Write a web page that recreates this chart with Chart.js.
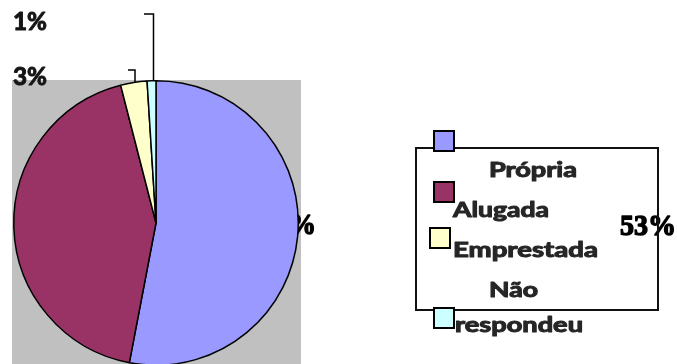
<!DOCTYPE html>
<html><head><meta charset="utf-8">
<script src="https://cdn.jsdelivr.net/npm/chart.js@4.4.1/dist/chart.umd.min.js"></script>
<style>
html,body{margin:0;padding:0;overflow:hidden;background:#fff}
#wrap{width:677px;height:364px;overflow:hidden;position:relative}
canvas{display:block}
</style>
</head><body>
<div id="wrap"><canvas id="c" width="677" height="380"></canvas></div>
<script>
// ---- data ----
const categories = ["Própria", "Alugada", "Emprestada", "Não respondeu"];
const values = [53, 43, 3, 1];
const sliceColors = ["#9999FF", "#993366", "#FFFFCC", "#CCFFFF"];

function pct(i){ return values[i] + "%"; }

const SANS = "700 20px Lato, 'Open Sans', 'DejaVu Sans', sans-serif";
const SANS_BIG = "700 24px Lato, 'Open Sans', 'DejaVu Sans', sans-serif";
const SERIF = "700 29px 'Liberation Serif', 'DejaVu Serif', serif";

function drawFit(ctx, text, x, baseline, targetW, font, color, emb){
  ctx.save();
  ctx.font = font;
  ctx.fillStyle = color;
  ctx.strokeStyle = color;
  ctx.textBaseline = "alphabetic";
  ctx.textAlign = "left";
  const w = ctx.measureText(text).width;
  ctx.translate(x, baseline);
  ctx.scale(targetW / w, 1);
  ctx.fillText(text, 0, 0);
  if (emb){ ctx.lineWidth = emb; ctx.lineJoin = "round"; ctx.strokeText(text, 0, 0); }
  ctx.restore();
}

const decor = {
  id: "decor",
  beforeDraw(chart){
    const ctx = chart.ctx, a = chart.chartArea;
    ctx.save();
    ctx.fillStyle = "#C0C0C0";
    ctx.fillRect(a.left - 1, a.top, a.width + 3, chart.height - a.top);
    ctx.restore();
    // clipped label tail behind the pie
    drawFit(ctx, "%", 289, 234, 27, SERIF, "#000", 1.4);
  },
  afterDraw(chart){
    const ctx = chart.ctx;
    ctx.save();
    ctx.strokeStyle = "#000";
    ctx.lineWidth = 1.5;
    ctx.beginPath();
    ctx.moveTo(144, 14); ctx.lineTo(153.5, 14); ctx.lineTo(153.5, 80);
    ctx.moveTo(128, 70); ctx.lineTo(135, 70); ctx.lineTo(135, 82);
    ctx.stroke();
    ctx.restore();
    drawFit(ctx, pct(3), 13, 30, 34, SANS_BIG, "#151515", 1);
    drawFit(ctx, pct(2), 13, 85, 34, SANS_BIG, "#151515", 1);
    drawFit(ctx, pct(0), 620, 235, 56, SERIF, "#000", 1.4);
    ctx.save();
    ctx.strokeStyle = "#111";
    ctx.lineWidth = 2;
    ctx.strokeRect(416, 148, 242, 162);
    ctx.restore();
    const marks = [[433,130],[433,181],[429,227],[433,307]];
    marks.forEach((m, i) => {
      ctx.save();
      ctx.fillStyle = sliceColors[i];
      ctx.fillRect(m[0], m[1], 22, 22);
      ctx.strokeStyle = "#000";
      ctx.lineWidth = 2;
      ctx.strokeRect(m[0] + 1, m[1] + 1, 20, 20);
      ctx.restore();
    });
    const c = "#262626";
    const nr = categories[3].split(" ");
    drawFit(ctx, categories[0], 489, 177, 88, SANS, c, 1);
    drawFit(ctx, categories[1], 453, 217, 96, SANS, c, 1);
    drawFit(ctx, categories[2], 453, 257, 145, SANS, c, 1);
    drawFit(ctx, nr[0], 489, 297, 49, SANS, c, 1);
    drawFit(ctx, nr[1], 455, 332, 128, SANS, c, 1);
  }
};

function build(){
  new Chart(document.getElementById("c"), {
    type: "pie",
    data: {
      labels: categories,
      datasets: [{
        data: values,
        backgroundColor: sliceColors,
        borderColor: "#000",
        borderWidth: 1.5
      }]
    },
    options: {
      responsive: false,
      animation: false,
      layout: { padding: { left: 13, top: 80, right: 378, bottom: 14 } },
      plugins: { legend: { display: false }, tooltip: { enabled: false } }
    },
    plugins: [decor]
  });
}
Promise.all([
  document.fonts.load(SANS, "Própria"),
  document.fonts.load(SANS_BIG, "1%"),
  document.fonts.load(SERIF, "53%")
]).then(build, build);
</script>
</body></html>
